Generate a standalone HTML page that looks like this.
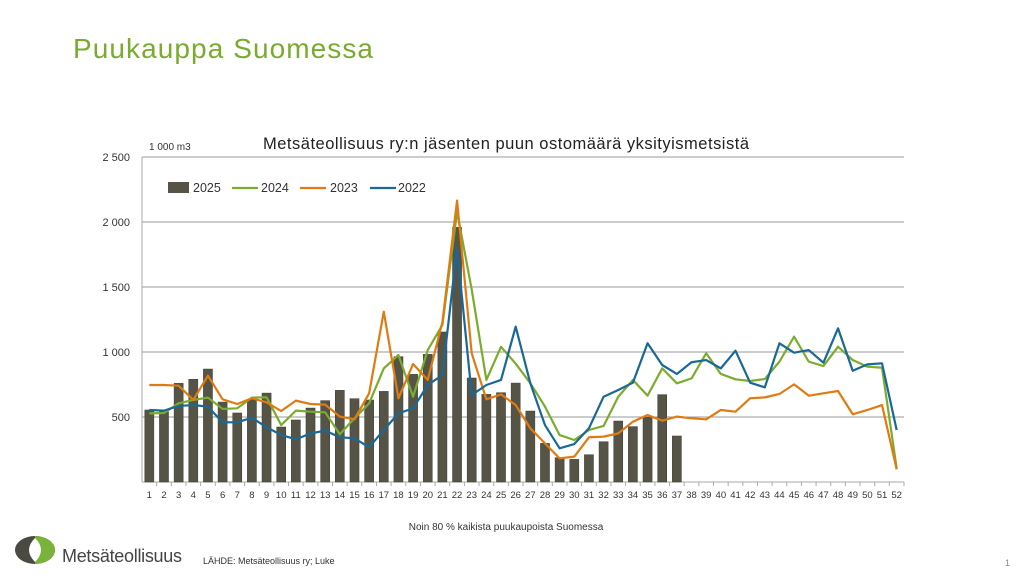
<!DOCTYPE html>
<html><head><meta charset="utf-8"><style>
body{margin:0;background:#fff;font-family:"Liberation Sans",sans-serif;}
#wrap{position:relative;width:1024px;height:576px;overflow:hidden;}
</style></head><body>
<div id="wrap">
<svg id="chart" width="1024" height="576" xmlns="http://www.w3.org/2000/svg">
<text x="73" y="58" font-size="28" fill="#7aaa2e" textLength="300" font-family="Liberation Sans, sans-serif">Puukauppa Suomessa</text>
<text x="506" y="149" font-size="16.5" fill="#222" text-anchor="middle" textLength="486">Metsäteollisuus ry:n jäsenten puun ostomäärä yksityismetsistä</text>
<text x="149" y="150" font-size="10" fill="#333">1 000 m3</text>
<text x="506" y="530" font-size="10" fill="#333" text-anchor="middle">Noin 80 % kaikista puukaupoista Suomessa</text>
<g>
<ellipse cx="35" cy="550" rx="20" ry="14" fill="#4a4a42"/>
<path d="M35 536 A20 14 0 0 1 35 564 Z" fill="#7ab33a"/>
<path d="M35 538 Q47 550 35 562 Q23 550 35 538 Z" fill="#fff"/>
<text x="62" y="562" font-size="18" fill="#444" textLength="120">Metsäteollisuus</text>
</g>
<text x="203" y="564" font-size="9" fill="#333">LÄHDE: Metsäteollisuus ry; Luke</text>
<text x="1010" y="566" font-size="9" fill="#888" text-anchor="end">1</text>
<g id="plot"></g>
</svg>
</div>
<script>
const weeks = Array.from({length:52},(_,i)=>i+1);
const yTicks = [0,500,1000,1500,2000,2500];
const yTickLabels = ["","500","1 000","1 500","2 000","2 500"];
const s2025 = [554,540,759,790,869,615,531,636,684,423,477,569,626,705,641,631,697,964,828,982,1154,1959,800,674,687,761,546,297,187,174,210,310,469,426,497,672,354];
const s2024 = [528,531,605,631,649,562,567,649,652,438,549,541,536,367,490,605,874,977,656,1015,1208,2080,1480,785,1040,910,760,580,361,323,400,431,656,785,664,874,759,797,990,831,790,777,792,926,1118,926,892,1041,938,887,879,105];
const s2023 = [746,746,741,631,818,636,600,644,613,546,626,600,595,503,482,682,1310,644,908,785,1230,2165,990,636,674,592,413,297,182,195,344,349,374,464,515,472,503,490,482,554,541,644,651,677,751,664,682,700,521,554,592,97];
const s2022 = [554,549,585,592,580,459,459,495,421,362,328,374,395,344,336,267,400,528,567,746,823,1800,669,746,785,1195,760,438,259,292,413,656,708,764,1067,900,831,921,938,874,1010,764,728,1067,995,1015,918,1182,856,905,913,400];

const NS="http://www.w3.org/2000/svg";
const g=document.getElementById('plot');
const X0=142,X1=904,Y0=482,Y1=157;
const step=(X1-X0)/52;
const xs=w=>X0+step*(w-0.5);
const ys=v=>Y0-(v/2500)*(Y0-Y1);
function mk(t,a){const e=document.createElementNS(NS,t);for(const k in a)e.setAttribute(k,a[k]);g.appendChild(e);return e;}
yTicks.forEach((v,i)=>{
  if(v>0){const l=mk('line',{x1:X0,x2:X1,y1:ys(v),y2:ys(v),stroke:'#9a9a9a','stroke-width':1});
  
  }
  const t=mk('text',{x:130,y:ys(v)+4,'font-size':11,'text-anchor':'end',fill:'#333'});t.textContent=yTickLabels[i];
  
  
});
const ax=mk('line',{x1:X0,x2:X1,y1:Y0,y2:Y0,stroke:'#aaa'});


const ay=mk('line',{x1:X0,x2:X0,y1:Y1,y2:Y0,stroke:'#aaa'});


weeks.forEach(w=>{
  const tk=mk('line',{x1:X0+step*w,x2:X0+step*w,y1:Y0,y2:Y0+4,stroke:'#aaa'});
  
  
  const t=mk('text',{x:xs(w),y:Y0+16,'font-size':9.5,'text-anchor':'middle',fill:'#333'});t.textContent=w;
  
  
});
s2025.forEach((v,i)=>{
  const bw=step*0.62;
  const r=mk('rect',{x:xs(i+1)-bw/2,y:ys(v),width:bw,height:Y0-ys(v),fill:'#565446',stroke:'#3c3b30','stroke-width':0.5});
  
  
});
function line(data,color,name){
  const p=mk('polyline',{points:data.map((v,i)=>xs(i+1)+','+ys(v)).join(' '),fill:'none',stroke:color,'stroke-width':2.2,'stroke-linejoin':'round'});
  
  
}
line(s2024,'#7aac2e','line-2024');
line(s2023,'#e07b12','line-2023');
line(s2022,'#1a6896','line-2022');
const lb=mk('rect',{x:168,y:182,width:21,height:11,fill:'#565446'});


[['2025',193],['2024',261],['2023',330],['2022',398]].forEach(([s,x])=>{
  const t=mk('text',{x:x,y:192,'font-size':12.5,fill:'#333'});t.textContent=s;
  
  
});
[[232,'#7aac2e','2024'],[300,'#e07b12','2023'],[370,'#1a6896','2022']].forEach(([x,c,s])=>{
  const l=mk('line',{x1:x,x2:x+26,y1:188,y2:188,stroke:c,'stroke-width':2.2});
  
  
});
</script>
</body></html>
